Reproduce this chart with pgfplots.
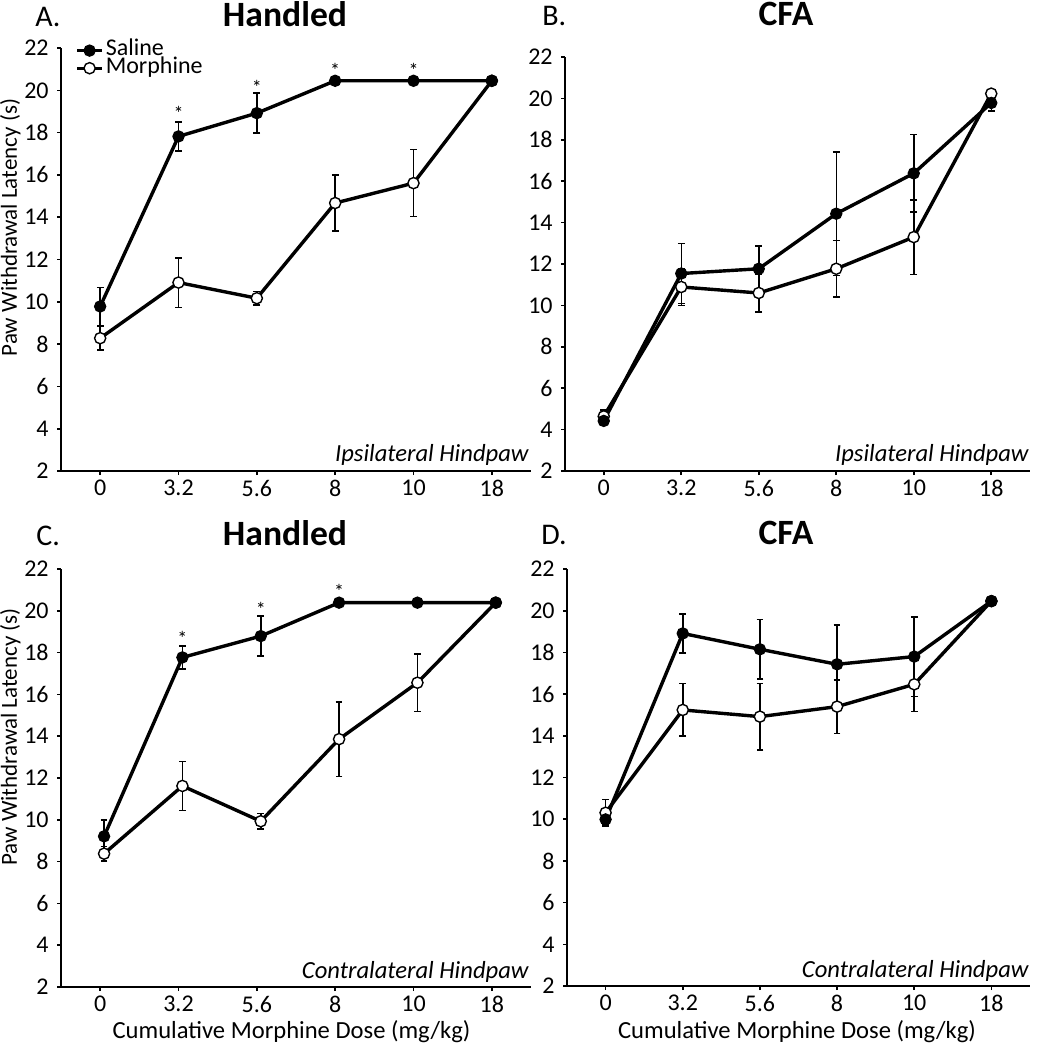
\documentclass[border=0pt]{standalone}
\usepackage{pgfplots}
\pgfplotsset{compat=1.18}
\usepackage{fontspec}
\setmainfont{Carlito}
\tikzset{hp/.style={anchor=base east, inner sep=0pt, font=\itshape\fontsize{12.3}{12.3}\selectfont}}
\pgfplotsset{
  panel/.style={
    scale only axis, anchor=south west,
    xmin=-0.5, xmax=5.5, ymin=2, ymax=22,
    axis x line*=bottom, axis y line*=left,
    axis line style={line width=1pt,-},
    xtick={0,...,5}, xticklabels={0,3.2,5.6,8,10,18},
    ytick={2,4,...,22},
    tick align=outside, major tick length=2pt,
    tick style={line width=0.8pt,black},
    tick label style={font=\fontsize{12}{12}\selectfont},
    xticklabel style={inner sep=0pt, yshift=-2.5pt},
    yticklabel style={inner sep=0pt, xshift=-4pt},
    /pgf/number format/assume math mode=true,
    clip=false,
    legend image code/.code={\draw[mark repeat=2,mark phase=2,##1] plot coordinates {(0pt,0pt) (6.25pt,0pt) (12.5pt,0pt)};},
  },
  sal/.style={black, line width=1.7pt, mark=*, mark size=2.8pt,
    mark options={fill=black, line width=0.6pt},
    error bars/.cd, y dir=both, y explicit,
    error bar style={line width=0.75pt},
    error mark options={rotate=90, line width=0.75pt, mark size=1.7pt}},
  mor/.style={black, line width=1.7pt, mark=*, mark size=2.8pt,
    mark options={fill=white, line width=0.7pt},
    error bars/.cd, y dir=both, y explicit,
    error bar style={line width=0.75pt},
    error mark options={rotate=90, line width=0.75pt, mark size=1.7pt}},
  stars/.style={only marks, mark=text, text mark={\fontsize{10}{10}\selectfont *}},
}
\begin{document}
\begin{tikzpicture}
\useasboundingbox (0pt,0pt) rectangle (525pt,-525pt);
% Panel A
\begin{axis}[panel, at={(30.5pt,-235.5pt)}, width=235pt, height=211.5pt,
  reverse legend, legend cell align=left,
  legend style={at={(0.0298,1.0156)}, anchor=north west, draw=none, fill=none, inner sep=0pt,
    row sep=0pt, column sep=1pt,
    nodes={inner sep=0pt, text height=6.8pt, text depth=2pt, font=\fontsize{12}{12}\selectfont}}]
\addplot[mor] coordinates {(0,8.28) +- (0,0.55) (1,10.91) +- (0,1.17) (2,10.17) +- (0,0.32) (3,14.67) +- (0,1.32) (4,15.61) +- (0,1.58) (5,20.45) +- (0,0)};
\addlegendentry{Morphine}
\addplot[sal] coordinates {(0,9.78) +- (0,0.9) (1,17.82) +- (0,0.68) (2,18.92) +- (0,0.95) (3,20.45) +- (0,0) (4,20.45) +- (0,0) (5,20.45) +- (0,0)};
\addlegendentry{Saline}
\addplot[stars, forget plot] coordinates {(1,18.92) (2,20.15) (3,20.94) (4,20.94)};
\node[hp] at (rel axis cs:1,0) [xshift=-1pt, yshift=5pt] {Ipsilateral Hindpaw};
\end{axis}
% Panel B
\begin{axis}[panel, at={(282.5pt,-235.5pt)}, width=232.5pt, height=207pt]
\addplot[mor] coordinates {(0,4.64) +- (0,0.3) (1,10.89) +- (0,0.9) (2,10.6) +- (0,0.92) (3,11.77) +- (0,1.37) (4,13.30) +- (0,1.8) (5,20.23) +- (0,0.2)};
\addplot[sal] coordinates {(0,4.42) +- (0,0.2) (1,11.54) +- (0,1.45) (2,11.77) +- (0,1.1) (3,14.43) +- (0,2.98) (4,16.38) +- (0,1.87) (5,19.78) +- (0,0.4)};
\node[hp] at (rel axis cs:1,0) [xshift=-0.5pt, yshift=5pt] {Ipsilateral Hindpaw};
\end{axis}
% Panel C
\begin{axis}[panel, at={(30.5pt,-493.5pt)}, width=235pt, height=209pt]
\addplot[mor] coordinates {(0.05,8.38) +- (0,0.35) (1.05,11.62) +- (0,1.17) (2.05,9.93) +- (0,0.38) (3.05,13.86) +- (0,1.78) (4.05,16.56) +- (0,1.38) (5.05,20.39) +- (0,0)};
\addplot[sal] coordinates {(0.05,9.21) +- (0,0.77) (1.05,17.77) +- (0,0.55) (2.05,18.79) +- (0,0.95) (3.05,20.39) +- (0,0) (4.05,20.39) +- (0,0) (5.05,20.39) +- (0,0)};
\addplot[stars] coordinates {(1.05,18.68) (2.05,20.07) (3.05,20.91)};
\node[hp] at (rel axis cs:1,0) [xshift=-1pt, yshift=4.5pt] {Contralateral Hindpaw};
\end{axis}
% Panel D
\begin{axis}[panel, at={(283.5pt,-493pt)}, width=231.5pt, height=208.5pt]
\addplot[mor] coordinates {(0,10.31) +- (0,0.64) (1,15.24) +- (0,1.26) (2,14.92) +- (0,1.6) (3,15.4) +- (0,1.28) (4,16.47) +- (0,1.31) (5,20.46) +- (0,0)};
\addplot[sal] coordinates {(0,9.99) +- (0,0.25) (1,18.91) +- (0,0.94) (2,18.15) +- (0,1.43) (3,17.43) +- (0,1.88) (4,17.8) +- (0,1.91) (5,20.46) +- (0,0)};
\node[hp] at (rel axis cs:1,0) [xshift=-0.5pt, yshift=4.5pt] {Contralateral Hindpaw};
\end{axis}
% titles and labels
\node[anchor=base west, inner sep=0pt, font=\fontsize{15}{15}\selectfont] at (17.5pt,-13pt) {A.};
\node[anchor=base, inner sep=0pt, font=\bfseries\fontsize{17.8}{17.8}\selectfont] at (142.5pt,-13pt) {Handled};
\node[anchor=base west, inner sep=0pt, font=\fontsize{15}{15}\selectfont] at (271pt,-12.5pt) {B.};
\node[anchor=base, inner sep=0pt, font=\bfseries\fontsize{17.8}{17.8}\selectfont] at (393pt,-12.5pt) {CFA};
\node[anchor=base west, inner sep=0pt, font=\fontsize{15}{15}\selectfont] at (18pt,-272.5pt) {C.};
\node[anchor=base, inner sep=0pt, font=\bfseries\fontsize{17.8}{17.8}\selectfont] at (142.5pt,-272.5pt) {Handled};
\node[anchor=base west, inner sep=0pt, font=\fontsize{15}{15}\selectfont] at (270.5pt,-272pt) {D.};
\node[anchor=base, inner sep=0pt, font=\bfseries\fontsize{17.8}{17.8}\selectfont] at (393pt,-272pt) {CFA};
\node[anchor=base, rotate=90, inner sep=0pt, font=\fontsize{11.5}{11.5}\selectfont] at (8.5pt,-113.8pt) {Paw Withdrawal Latency (s)};
\node[anchor=base, rotate=90, inner sep=0pt, font=\fontsize{11.5}{11.5}\selectfont] at (8.5pt,-368.5pt) {Paw Withdrawal Latency (s)};
\node[anchor=base, inner sep=0pt, font=\fontsize{12.3}{12.3}\selectfont] at (145.75pt,-519pt) {Cumulative Morphine Dose (mg/kg)};
\node[anchor=base, inner sep=0pt, font=\fontsize{12.3}{12.3}\selectfont] at (398.5pt,-519pt) {Cumulative Morphine Dose (mg/kg)};
\end{tikzpicture}
\end{document}
